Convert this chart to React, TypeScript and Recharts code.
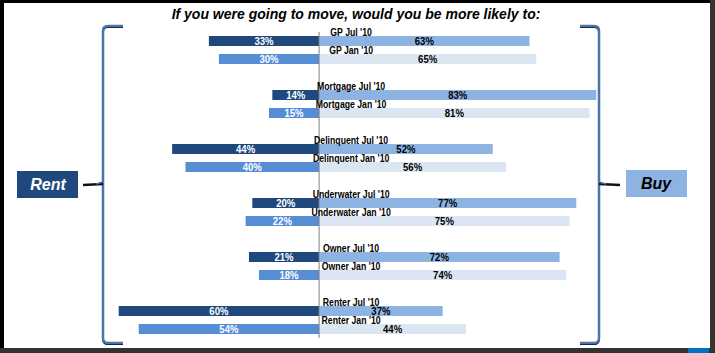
import React from 'react';
import { BarChart, Bar, XAxis, YAxis, Cell, LabelList, ReferenceLine } from 'recharts';

const groups = ['GP', 'Mortgage', 'Delinquent', 'Underwater', 'Owner', 'Renter'];
const periods = ["Jul '10", "Jan '10"];
const rentJul = [33, 14, 44, 20, 21, 60];
const rentJan = [30, 15, 40, 22, 18, 54];
const buyJul = [63, 83, 52, 77, 72, 37];
const buyJan = [65, 81, 56, 75, 74, 44];

const RENT_COLORS = ['#1F497D', '#558ED5'];
const BUY_COLORS = ['#8DB3E2', '#DCE6F2'];
const SANS = "'Liberation Sans', Arial, sans-serif";

// one slot per bar pair row, with an empty slot between groups
const rows: any[] = [];
groups.forEach((g, i) => {
  rows.push({ key: `${g}-jul`, name: `${g} ${periods[0]}`, p: 0, rent: -rentJul[i], buy: buyJul[i] });
  rows.push({ key: `${g}-jan`, name: `${g} ${periods[1]}`, p: 1, rent: -rentJan[i], buy: buyJan[i] });
  if (i < groups.length - 1) rows.push({ key: `gap-${i}`, name: '', p: 0, rent: null, buy: null });
});

// labels in the original look like a condensed bold face, so squeeze them a bit
const ValueLabel = (color: string) => (props: any) => {
  const { x, y, width, height, value } = props;
  if (value == null) return null;
  return (
    <text transform={`translate(${x + width / 2},${y + height / 2}) scale(0.87,1)`} fill={color}
      fontSize={11} fontWeight="bold" fontFamily={SANS} textAnchor="middle" dominantBaseline="central">
      {Math.abs(value)}%
    </text>
  );
};

const NameLabel = (props: any) => {
  const { x, y, value } = props;
  if (!value) return null;
  return (
    <text transform={`translate(${x + 32},${y - 0.5}) scale(0.87,1)`} fill="#000" fontSize={10}
      fontWeight="bold" fontFamily={SANS} textAnchor="middle">
      {value}
    </text>
  );
};

const Decorations = () => {
  const brace = '#4A74AA';
  return (
    <svg width={715} height={353} style={{ position: 'absolute', left: 0, top: 0, pointerEvents: 'none' }}>
      {/* frame */}
      <rect x={0} y={0} width={715} height={3} fill="#000" />
      <rect x={0} y={0} width={4} height={353} fill="#000" />
      <rect x={710} y={0} width={5} height={353} fill="#333" />
      <rect x={0} y={348} width={715} height={5} fill="#333" />
      <rect x={688} y={348} width={21} height={5} fill="#0070C0" />

      <text x={356} y={19} fontSize={14} fontWeight="bold" fontStyle="italic" fontFamily={SANS}
        textAnchor="middle" fill="#000">
        If you were going to move, would you be more likely to:
      </text>

      {/* left brace */}
      <path d="M123,26 L108,26 Q103,26 103,31 L103,338 Q103,343 108,343 L123,343" fill="none" stroke="#111" strokeWidth={2} transform="translate(0,1)" />
      <path d="M123,26 L108,26 Q103,26 103,31 L103,338 Q103,343 108,343 L123,343" fill="none" stroke={brace} strokeWidth={2.5} />
      <path d="M83,185 L103,184" fill="none" stroke="#111" strokeWidth={2.5} />
      <path d="M96,184 L103,182" fill="none" stroke={brace} strokeWidth={1.5} />

      {/* right brace */}
      <path d="M580,26 L594,26 Q599,26 599,31 L599,338 Q599,343 594,343 L580,343" fill="none" stroke="#111" strokeWidth={2} transform="translate(0,1)" />
      <path d="M580,26 L594,26 Q599,26 599,31 L599,338 Q599,343 594,343 L580,343" fill="none" stroke={brace} strokeWidth={2.5} />
      <path d="M599,184 L620,185" fill="none" stroke="#111" strokeWidth={2.5} />
      <path d="M599,182 L606,184" fill="none" stroke={brace} strokeWidth={1.5} />

      {/* side boxes */}
      <rect x={17} y={171} width={61} height={27} fill="#1F497D" />
      <text x={48} y={190} fontSize={16} fontWeight="bold" fontStyle="italic" fontFamily={SANS}
        textAnchor="middle" fill="#fff">Rent</text>
      <rect x={626} y={170} width={61} height={27} fill="#8DB3E2" />
      <text x={656} y={189} fontSize={16} fontWeight="bold" fontStyle="italic" fontFamily={SANS}
        textAnchor="middle" fill="#000">Buy</text>
    </svg>
  );
};

export default function App() {
  return (
    <div style={{ position: 'absolute', left: 0, top: 0, width: 715, height: 353, background: '#fff' }}>
      <BarChart width={715} height={353} data={rows} layout="vertical" stackOffset="sign"
        margin={{ top: 32, right: 112, bottom: 15, left: 102 }}>
        <XAxis type="number" domain={[-65, 85]} hide />
        <YAxis type="category" dataKey="key" hide />
        <Bar dataKey="rent" stackId="s" barSize={10} isAnimationActive={false}>
          {rows.map((r, i) => <Cell key={`r-${i}`} fill={RENT_COLORS[r.p]} />)}
          <LabelList dataKey="rent" content={ValueLabel('#fff')} />
        </Bar>
        <Bar dataKey="buy" stackId="s" barSize={10} isAnimationActive={false}>
          {rows.map((r, i) => <Cell key={`b-${i}`} fill={BUY_COLORS[r.p]} />)}
          <LabelList dataKey="buy" content={ValueLabel('#000')} />
          <LabelList dataKey="name" content={NameLabel} />
        </Bar>
        <ReferenceLine x={0} stroke="#808080" strokeWidth={1} />
      </BarChart>
      <Decorations />
    </div>
  );
}
